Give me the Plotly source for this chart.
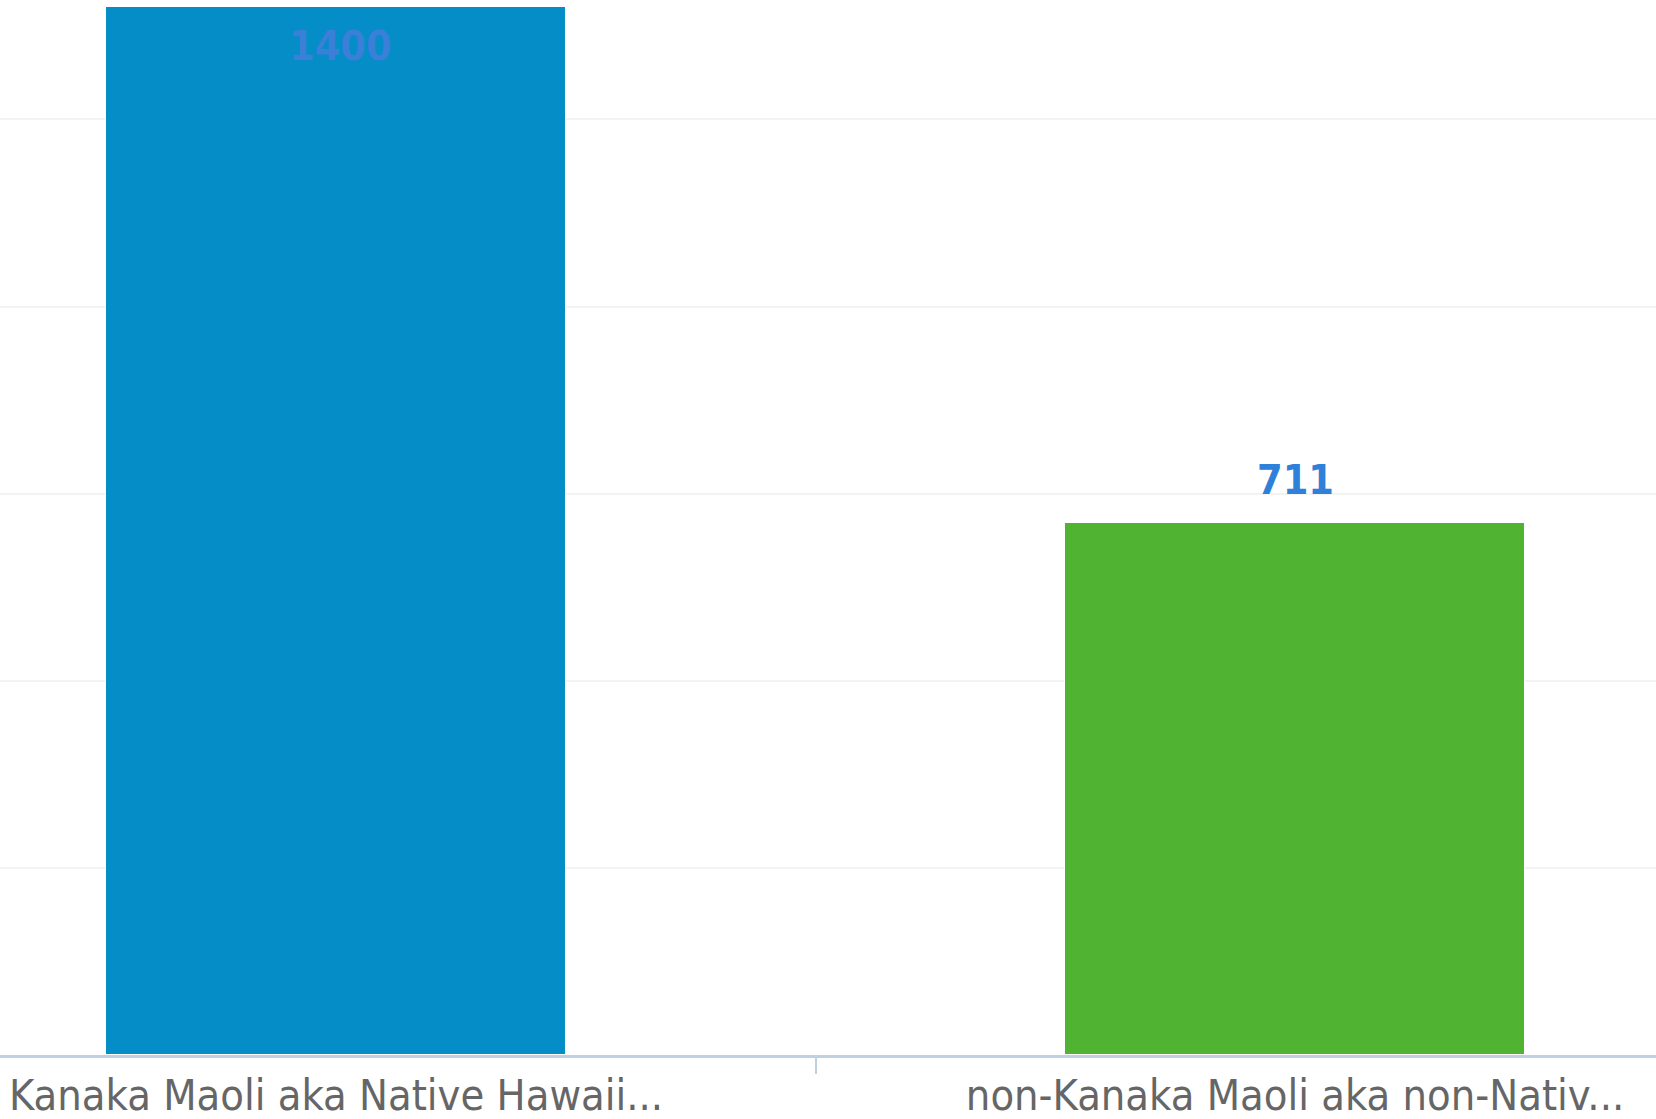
import plotly.graph_objects as go

categories = ["Kanaka Maoli aka Native Hawaii...", "non-Kanaka Maoli aka non-Nativ..."]
values = [1400, 711]
colors = ["#058dc7", "#50b432"]
label_colors = ["#3a7fd8", "#2f80d8"]

fig = go.Figure()
fig.add_trace(go.Bar(
    x=categories, y=values, width=0.479,
    marker=dict(color=colors, line=dict(color="#ffffff", width=1)),
    hoverinfo="skip",
))

fig.add_annotation(x=categories[0], y=values[0], text=str(values[0]), showarrow=False,
                   yanchor="top", yshift=-13, xshift=4,
                   font=dict(family="DejaVu Sans Condensed", size=41, color=label_colors[0], weight="bold"))
fig.add_annotation(x=categories[1], y=values[1], text=str(values[1]), showarrow=False,
                   yanchor="bottom", yshift=17,
                   font=dict(family="DejaVu Sans Condensed", size=41, color=label_colors[1], weight="bold"))

fig.update_layout(
    width=1656, height=1119,
    margin=dict(l=0, r=0, t=0, b=64, autoexpand=False),
    paper_bgcolor="#ffffff", plot_bgcolor="#ffffff",
    showlegend=False,
    bargap=0,
)
fig.update_xaxes(
    type="category",
    range=[-0.3504, 1.3764],
    tickson="boundaries", ticks="outside", ticklen=16, tickwidth=2, tickcolor="#c0d0e0",
    showline=True, linecolor="#c0d0e0", linewidth=3,
    showgrid=False, zeroline=False, automargin=False,
    tickfont=dict(family="DejaVu Sans Condensed", size=43, color="#666666"),
)
fig.update_yaxes(
    range=[0, 1409.5], dtick=250, tick0=0,
    showgrid=True, gridcolor="#f3f3f3", gridwidth=2,
    showticklabels=False, zeroline=False, showline=False, automargin=False,
)

fig.write_html("out.html", config={"displayModeBar": False},
               post_script="document.body.style.margin='0';document.body.style.overflow='hidden';")
